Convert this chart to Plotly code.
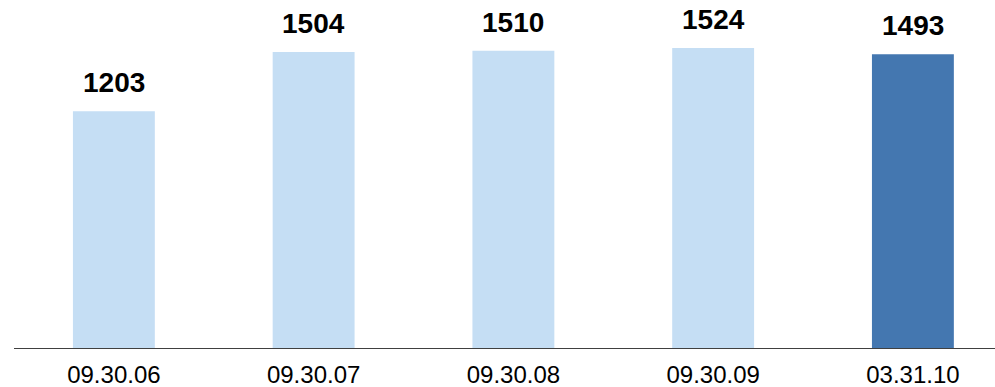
import plotly.graph_objects as go

dates = ["09.30.06", "09.30.07", "09.30.08", "09.30.09", "03.31.10"]
counts = [1203, 1504, 1510, 1524, 1493]
bar_colors = ["#C5DEF4", "#C5DEF4", "#C5DEF4", "#C5DEF4", "#4477B0"]

fig = go.Figure()
fig.add_trace(go.Bar(
    x=dates,
    y=counts,
    marker=dict(color=bar_colors, line=dict(width=0)),
    width=0.41,
    hoverinfo="skip",
))

# Value labels above each bar
for d, v in zip(dates, counts):
    fig.add_annotation(
        x=d, y=v, text=f"<b>{v}</b>", showarrow=False,
        yanchor="bottom", yshift=11,
        font=dict(family="Liberation Sans, Arial", size=28, color="#000000"),
    )

fig.update_layout(
    width=995, height=387,
    margin=dict(l=14, r=0, t=0, b=39),
    paper_bgcolor="white", plot_bgcolor="white",
    showlegend=False,
    font=dict(family="Liberation Sans, Arial", size=24, color="#000000"),
    xaxis=dict(
        type="category",
        range=[-0.5, 4.411],
        automargin=False,
        showline=True, linecolor="#404040", linewidth=1,
        showgrid=False, ticks="", ticklabelstandoff=5,
        tickfont=dict(size=24),
    ),
    yaxis=dict(
        range=[0, 1768],
        automargin=False,
        visible=False, showgrid=False, zeroline=False,
    ),
)

fig.write_html("out.html")
